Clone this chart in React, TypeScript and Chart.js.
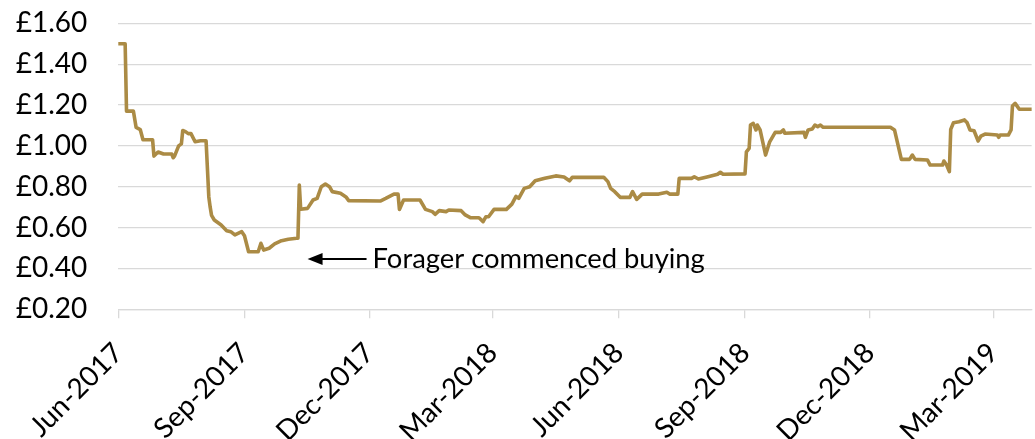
import React, { useEffect, useRef } from "react";
import { Chart, registerables } from "chart.js";

Chart.register(...registerables);

// Day offsets counted from the first date of the series
const startDate = "2017-06-01";
const dayOffsets = [
  0, 5, 6, 11, 13, 16, 18, 25, 26, 29, 33, 39, 40, 41, 44, 46, 47, 49, 51, 53, 56, 60, 64,
  66, 67, 68, 70, 75, 79, 82, 85, 90, 92, 95, 102, 104, 106, 110, 114, 119, 124, 130, 131,
  132, 133, 138, 142, 145, 148, 151, 154, 156, 162, 166, 168, 191, 195, 201, 204, 205, 208,
  220, 224, 229, 231, 234, 239, 241, 250, 253, 257, 263, 266, 268, 270, 274, 283, 287, 290,
  292, 296, 300, 304, 311, 319, 325, 329, 331, 354, 357, 359, 362, 366, 373, 375, 378, 382,
  394, 400, 402, 408, 409, 418, 420, 423, 430, 437, 439, 441, 457, 458, 460, 461, 463, 465,
  466, 468, 472, 475, 479, 483, 485, 486, 500, 501, 503, 506, 508, 510, 512, 514, 563, 566,
  571, 577, 579, 581, 590, 592, 601, 602, 604, 606, 607, 609, 613, 617, 619, 621, 624, 627,
  629, 632, 641, 642, 643, 649, 651, 652, 654, 657, 666,
];
const prices = [
  1.5, 1.5, 1.17, 1.17, 1.09, 1.08, 1.03, 1.03, 0.95, 0.97, 0.96, 0.96, 0.942, 0.95, 1.0, 1.01,
  1.075, 1.07, 1.06, 1.06, 1.02, 1.025, 1.025,
  0.75, 0.7, 0.66, 0.637, 0.613, 0.585, 0.58, 0.564, 0.58, 0.56, 0.482, 0.482, 0.523, 0.49,
  0.499, 0.52, 0.536, 0.543, 0.548, 0.548,
  0.808, 0.69, 0.694, 0.735, 0.743, 0.8, 0.813, 0.8, 0.776, 0.768, 0.75, 0.732, 0.73, 0.743,
  0.764, 0.764, 0.689, 0.735,
  0.735, 0.689, 0.678, 0.665, 0.683, 0.678, 0.686, 0.683, 0.662, 0.648, 0.648, 0.629, 0.653,
  0.653, 0.689, 0.689, 0.715, 0.753,
  0.743, 0.792, 0.8, 0.829, 0.841, 0.853, 0.848, 0.829, 0.846, 0.846, 0.825, 0.792, 0.776,
  0.748, 0.748, 0.776, 0.738, 0.764,
  0.764, 0.773, 0.764, 0.764, 0.841, 0.841, 0.849, 0.838, 0.849, 0.861, 0.871, 0.861, 0.863,
  0.971, 0.988, 1.102, 1.11, 1.078,
  1.102, 1.078, 0.955, 1.02, 1.066, 1.066, 1.078, 1.062, 1.066, 1.042, 1.078, 1.083, 1.102,
  1.094, 1.102, 1.091, 1.091, 1.078,
  0.934, 0.934, 0.955, 0.934, 0.931, 0.906, 0.906, 0.926, 0.906, 0.874, 1.081, 1.113, 1.118,
  1.127, 1.113, 1.078, 1.074, 1.024,
  1.048, 1.058, 1.053, 1.042, 1.053, 1.053, 1.078, 1.195, 1.208, 1.179, 1.179,
];
const xTickLabels = [
  "Jun-2017", "Sep-2017", "Dec-2017", "Mar-2018",
  "Jun-2018", "Sep-2018", "Dec-2018", "Mar-2019",
];
const xEndDay = 666;
const yMin = 0.2;
const yMax = 1.6;
const yStep = 0.2;
const annotationText = "Forager commenced buying";
const annotationDay = 138;
const annotationPrice = 0.446;

const MONTHS = ["Jan", "Feb", "Mar", "Apr", "May", "Jun", "Jul", "Aug", "Sep", "Oct", "Nov", "Dec"];
const DAY_MS = 86400000;
const startMs = Date.UTC(+startDate.slice(0, 4), +startDate.slice(5, 7) - 1, +startDate.slice(8, 10));
const tickDays = xTickLabels.map((lab) => {
  const [m, y] = lab.split("-");
  return Math.round((Date.UTC(+y, MONTHS.indexOf(m), 1) - startMs) / DAY_MS);
});

const FONT = "Lato";
const LINE_COLOR = "#AB8B45";
const GRID_COLOR = "#D9D9D9";

const annotationPlugin = {
  id: "foragerAnnotation",
  afterDraw(chart: any) {
    const { ctx, scales } = chart;
    const tipX = scales.x.getPixelForValue(annotationDay);
    const tipY = scales.y.getPixelForValue(annotationPrice);
    ctx.save();
    ctx.strokeStyle = "#000";
    ctx.fillStyle = "#000";
    ctx.lineWidth = 2;
    ctx.beginPath();
    ctx.moveTo(tipX + 12, tipY);
    ctx.lineTo(tipX + 59, tipY);
    ctx.stroke();
    ctx.beginPath();
    ctx.moveTo(tipX, tipY);
    ctx.lineTo(tipX + 15, tipY - 6);
    ctx.lineTo(tipX + 15, tipY + 6);
    ctx.closePath();
    ctx.fill();
    ctx.font = `27.4px ${FONT}`;
    ctx.textBaseline = "alphabetic";
    ctx.textAlign = "left";
    ctx.fillText(annotationText, tipX + 65, tipY + 8.5);
    ctx.restore();
  },
};

export default function App() {
  const canvasRef = useRef<HTMLCanvasElement | null>(null);

  useEffect(() => {
    document.body.style.margin = "0";
    const canvas = canvasRef.current;
    if (!canvas) return;
    const chart = new Chart(canvas, {
      type: "line",
      data: {
        datasets: [
          {
            data: dayOffsets.map((d, i) => ({ x: d, y: prices[i] })),
            borderColor: LINE_COLOR,
            backgroundColor: LINE_COLOR,
            borderWidth: 3.6,
            pointRadius: 0,
            tension: 0,
            fill: false,
            borderJoinStyle: "round",
            borderCapStyle: "round",
          },
        ],
      },
      options: {
        animation: false,
        responsive: false,
        devicePixelRatio: 1,
        layout: { padding: { top: 23.3, right: 0, left: 0, bottom: 0 } },
        plugins: { legend: { display: false }, tooltip: { enabled: false } },
        scales: {
          x: {
            type: "linear",
            min: 0,
            max: xEndDay,
            afterBuildTicks: (s: any) => {
              s.ticks = tickDays.map((v) => ({ value: v }));
            },
            afterFit: (s: any) => {
              s.height = 129.7;
              s.paddingTop = 0;
              s.paddingBottom = 0;
            },
            grid: {
              drawOnChartArea: false,
              drawTicks: true,
              tickLength: 9,
              color: GRID_COLOR,
              lineWidth: 1.3,
            },
            border: { display: true, color: GRID_COLOR, width: 1.3 },
            ticks: {
              autoSkip: false,
              minRotation: 45,
              maxRotation: 45,
              padding: 18,
              color: "#000",
              font: { family: FONT, size: 28 },
              callback: (_v: any, i: number) => xTickLabels[i],
            },
          },
          y: {
            min: yMin,
            max: yMax,
            afterFit: (s: any) => {
              s.width = 118.3;
              s.paddingTop = 0;
              s.paddingBottom = 0;
            },
            grid: { color: GRID_COLOR, lineWidth: 1.3, drawTicks: false },
            border: { display: false },
            ticks: {
              stepSize: yStep,
              padding: 31,
              color: "#000",
              font: { family: FONT, size: 28 },
              callback: (v: any) => "£" + Number(v).toFixed(2),
            },
          },
        },
      },
      plugins: [annotationPlugin],
    });
    return () => chart.destroy();
  }, []);

  return (
    <canvas
      ref={canvasRef}
      width={1035}
      height={439}
      style={{ display: "block", width: "1035px", height: "439px" }}
    />
  );
}
